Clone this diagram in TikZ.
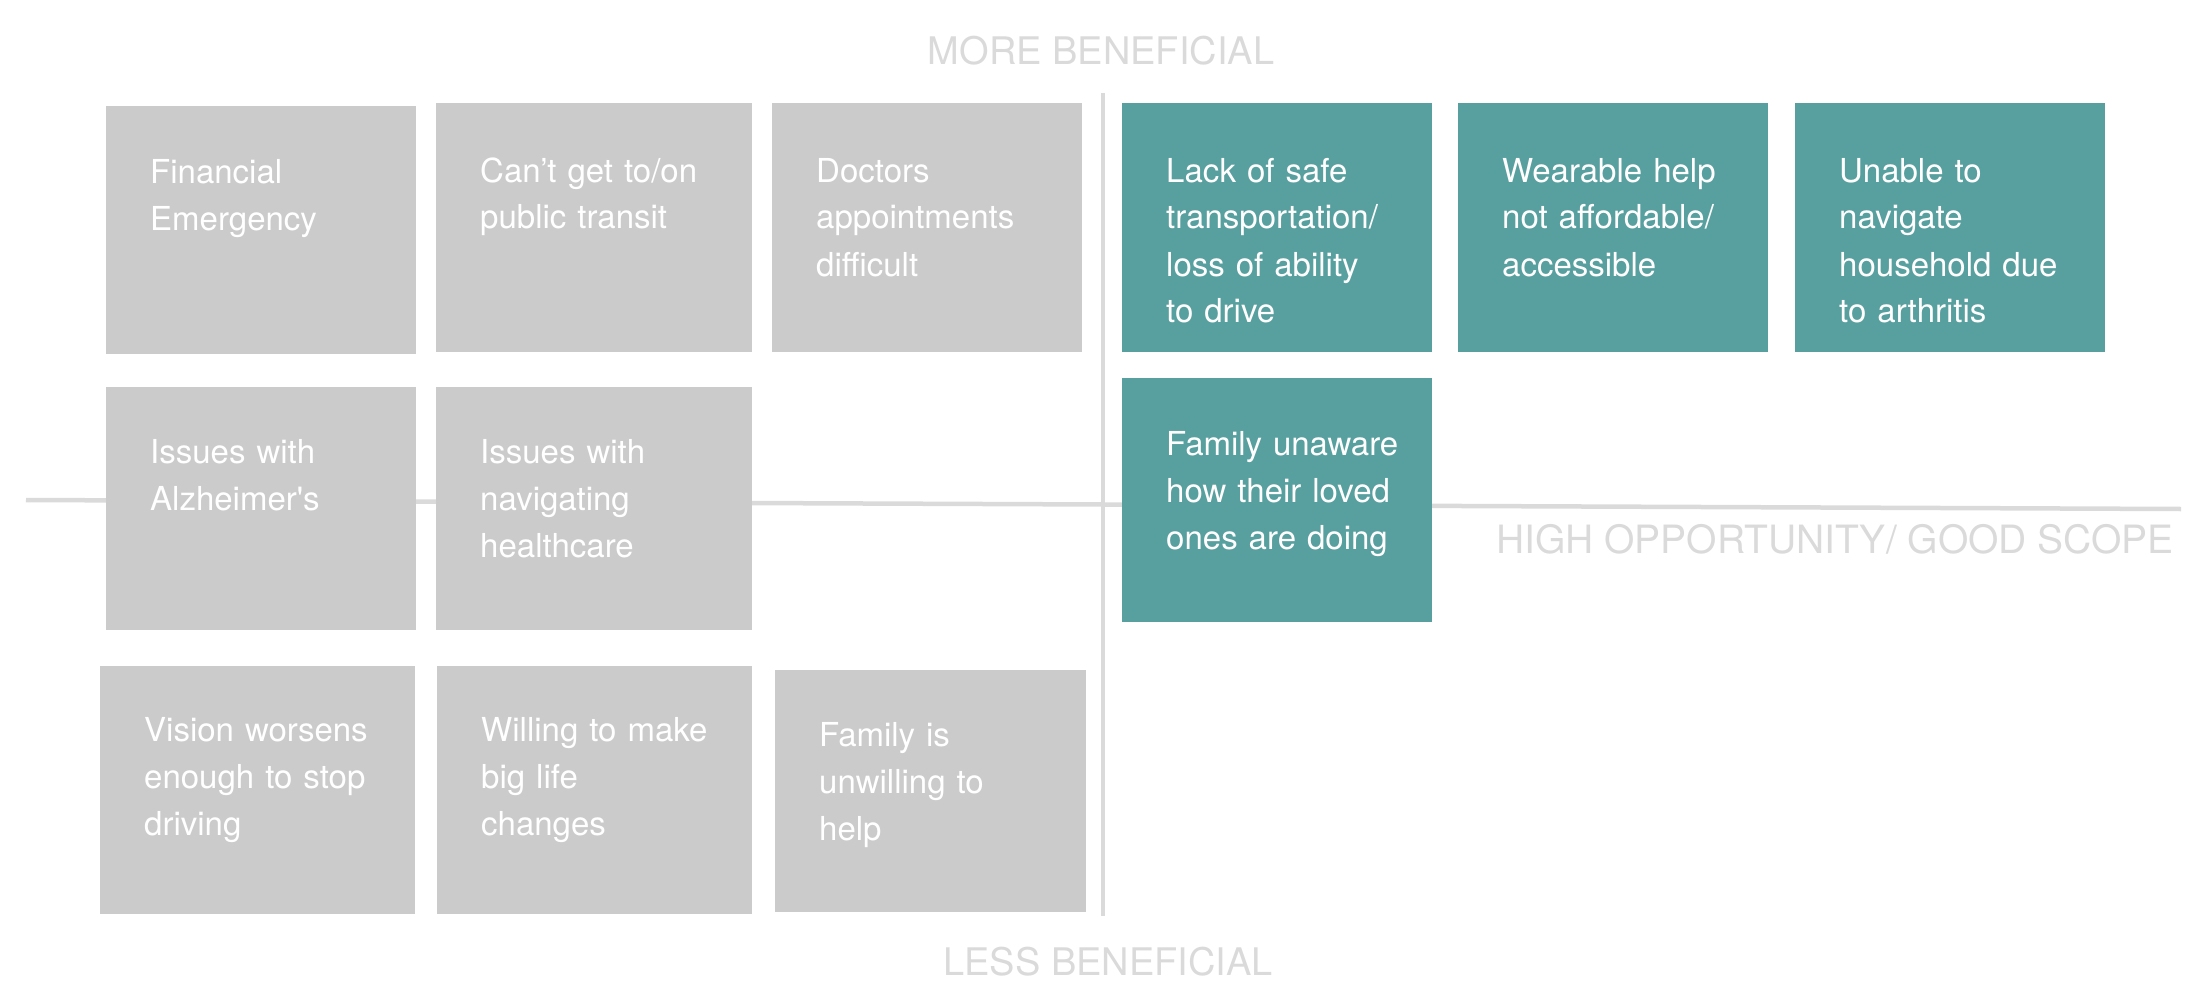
\documentclass[tikz,border=0pt]{standalone}
\usepackage{fontspec}
\setmainfont{TeX Gyre Heros}
\usetikzlibrary{calc}

\definecolor{cardgray}{HTML}{CBCBCB}
\definecolor{cardteal}{HTML}{58A09F}
\definecolor{axisgray}{HTML}{DADADA}

\begin{document}
\begin{tikzpicture}[x=1pt,y=-1pt]
\tikzset{
% cards: grey and teal, text set separately at the top left
card/.style={rectangle,draw=none,fill=cardgray,anchor=north west,inner sep=0,minimum width=310pt,minimum height=249pt},
good/.style={card,fill=cardteal},
cardtext/.style={anchor=base west,inner sep=0,text width=250pt,align=left,text=white,font=\fontsize{33}{47}\selectfont},
axis/.style={draw=axisgray,line width=4.5pt},
axislabel/.style={anchor=base,inner sep=0,text=axisgray,font=\fontsize{38}{46}\selectfont}
}
\useasboundingbox (0,0) rectangle (2200,1006);

% axes
\coordinate (top) at (1103,93);
\coordinate (bottom) at (1103,916);
\coordinate (left) at (26,500);
\coordinate (right) at (2181,509);
\draw[axis] (left) -- (right);
\draw[axis,line width=4pt] (top) -- (bottom);

\node(more)[axislabel] at (1101,65) {MORE BENEFICIAL};
\node(less)[axislabel] at (1108,975) {LESS BENEFICIAL};
\node(high)[axislabel,font=\fontsize{39}{46}\selectfont] at (1835,553) {HIGH OPPORTUNITY/ GOOD SCOPE};

% first row
\node(fin)[card,minimum height=248pt] at (106,106) {};
\node(transit)[card,minimum width=316pt] at (436,103) {};
\node(doctors)[card] at (772,103) {};
\node(safe)[good] at (1122,103) {};
\node(wearable)[good] at (1458,103) {};
\node(arthritis)[good] at (1795,103) {};

% second row
\node(alz)[card,minimum height=243pt] at (106,387) {};
\node(health)[card,minimum width=316pt,minimum height=243pt] at (436,387) {};
\node(unaware)[good,minimum height=244pt] at (1122,378) {};

% third row
\node(vision)[card,minimum width=315pt,minimum height=248pt] at (100,666) {};
\node(willing)[card,minimum width=315pt,minimum height=248pt] at (437,666) {};
\node(unwilling)[card,minimum width=311pt,minimum height=242pt] at (775,670) {};

% card texts
\node(fin-t)[cardtext] at ($(fin.north west)+(44,77)$) {Financial\\Emergency};
\node(transit-t)[cardtext] at ($(transit.north west)+(44,79)$) {Can’t get to/on\\public transit};
\node(doctors-t)[cardtext] at ($(doctors.north west)+(44,79)$) {Doctors\\appointments\\difficult};
\node(safe-t)[cardtext] at ($(safe.north west)+(44,79)$) {Lack of safe\\transportation/\\loss of ability\\to drive};
\node(wearable-t)[cardtext] at ($(wearable.north west)+(44,79)$) {Wearable help\\not affordable/\\accessible};
\node(arthritis-t)[cardtext] at ($(arthritis.north west)+(44,79)$) {Unable to\\navigate\\household due\\to arthritis};
\node(alz-t)[cardtext] at ($(alz.north west)+(44,76)$) {Issues with\\Alzheimer\textquotesingle s};
\node(health-t)[cardtext] at ($(health.north west)+(44,76)$) {Issues with\\navigating\\healthcare};
\node(unaware-t)[cardtext] at ($(unaware.north west)+(44,77)$) {Family unaware\\how their loved\\ones are doing};
\node(vision-t)[cardtext] at ($(vision.north west)+(44,75)$) {Vision worsens\\enough to stop\\driving};
\node(willing-t)[cardtext] at ($(willing.north west)+(44,75)$) {Willing to make\\big life\\changes};
\node(unwilling-t)[cardtext] at ($(unwilling.north west)+(44,76)$) {Family is\\unwilling to\\help};
\end{tikzpicture}
\end{document}
